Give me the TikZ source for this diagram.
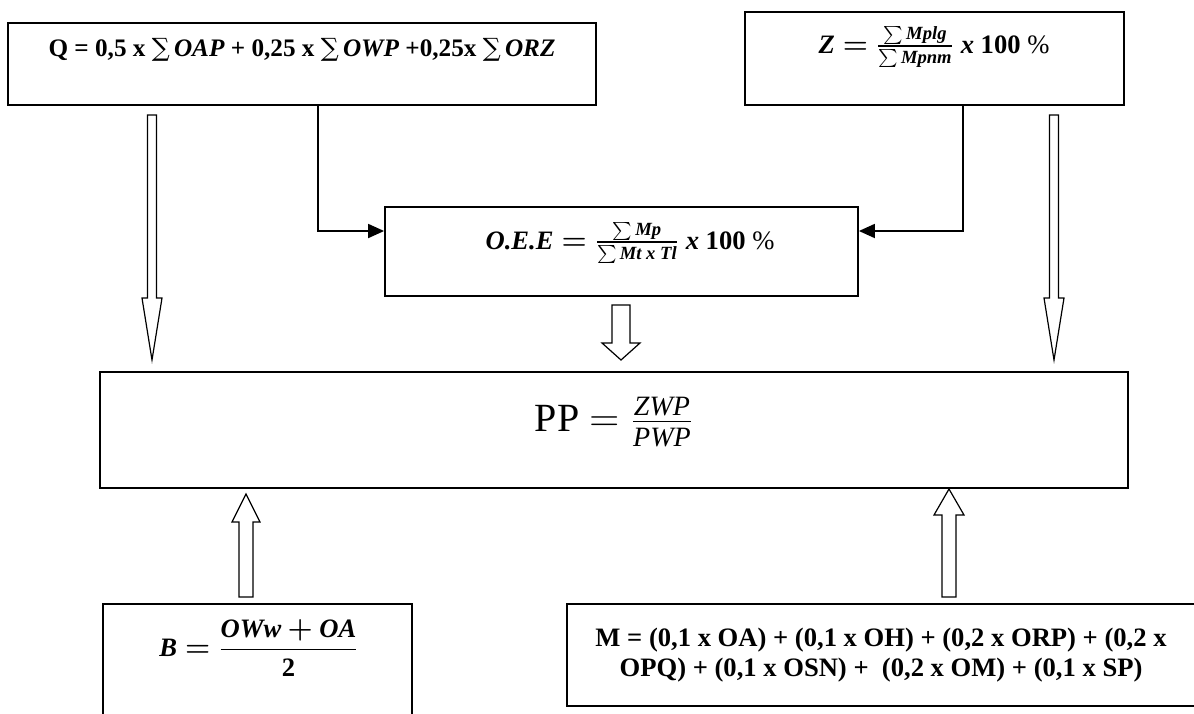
\documentclass[tikz,border=0pt]{standalone}
\usepackage{amsmath}
\usepackage{bm}
\usepackage{fontspec}
\setmainfont{Liberation Serif}
\newfontfamily\symfont{DejaVu Serif}
\usetikzlibrary{calc,fit,arrows.meta}

% bold italic variable names inside formulas
\newcommand\vb[1]{\text{\bfseries\itshape #1}}
% summation sign set as a text glyph
\newcommand\sumsign{{\symfont\mdseries\upshape ∑}}
% hollow block arrow: x, tail y, tip y, shaft half-width, head half-width, head base y
\newcommand\blockarrow[6]{%
  \draw[hollow] ({#1-#4},#2) -- ({#1-#4},#6) -- ({#1-#5},#6) -- (#1,#3)
    -- ({#1+#5},#6) -- ({#1+#4},#6) -- ({#1+#4},#2) -- cycle;}

\begin{document}
\begin{tikzpicture}[x=0.5pt,y=-0.5pt,
  box/.style={draw, line width=0.9pt, rectangle, inner sep=0pt},
  formula/.style={inner sep=0pt, align=center,
    font=\fontsize{13.3}{15}\selectfont\bfseries},
  link/.style={line width=0.9pt, -{Triangle[length=8pt,width=7pt]}},
  hollow/.style={line width=0.6pt, fill=white, line join=miter}]
\useasboundingbox (0,0) rectangle (1194,713);
\clip (0,0) rectangle (1194,713);

% boxes
\node[box, fit={(8,23) (596,105)}] (q) {};
\node[box, fit={(745,12) (1124,105)}] (z) {};
\node[box, fit={(385,207) (858,296)}] (oee) {};
\node[box, fit={(100,372) (1128,488)}] (pp) {};
\node[box, fit={(103,604) (412,740)}] (b) {};
\node[box, fit={(567,604) (1197,706)}] (m) {};

% formulas
\node[formula, font=\fontsize{12.6}{15}\selectfont\bfseries] (qt) at (302,50)
  {Q = 0,5 x \sumsign\,\textit{OAP} + 0,25 x \sumsign\,\textit{OWP} +0,25x \sumsign\,\textit{ORZ}};
\node[formula] (zt) at (934,47)
  {$\vb{Z} \mathrel{\bm{=}} \frac{\sum\vb{Mplg}}{\sum\vb{Mpnm}}$ \textit{x} 100 {\mdseries\%}};
\node[formula] (oeet) at (630,243)
  {$\vb{O.E.E} \mathrel{\bm{=}} \frac{\sum\vb{Mp}}{\sum\vb{Mt x Tl}}$ \textit{x} 100 {\mdseries\%}};
\node[formula, font=\fontsize{20}{24}\selectfont] (ppt) at (614,422)
  {PP $= \frac{\text{\itshape ZWP}}{\text{\itshape PWP}}$};
\node[formula] (bt) at (259,648)
  {$\vb{B} \mathrel{\bm{=}} \dfrac{\vb{OWw} \mathbin{\bm{+}} \vb{OA}}{\textbf{2}}$};
\node[formula] (mt) at (881,655)
  {M = (0,1 x OA) + (0,1 x OH) + (0,2 x ORP) + (0,2 x\\
   OPQ) + (0,1 x OSN) +~~(0,2 x OM) + (0,1 x SP)};

% connectors into the O.E.E box
\draw[link] ($(q.south)+(16,0)$) |- ($(oee.west)+(0,-20.5)$);
\draw[link] ($(z.south)+(28.5,0)$) |- ($(oee.east)+(0,-20.5)$);

% block arrows
\blockarrow{152}{115}{360}{4.5}{10}{298}
\blockarrow{1054}{115}{360}{4.5}{10}{298}
\blockarrow{621}{305}{360}{9}{19}{343}
\blockarrow{246}{597}{494}{7}{14}{522}
\blockarrow{949}{597}{489}{7}{15}{515}
\end{tikzpicture}
\end{document}
